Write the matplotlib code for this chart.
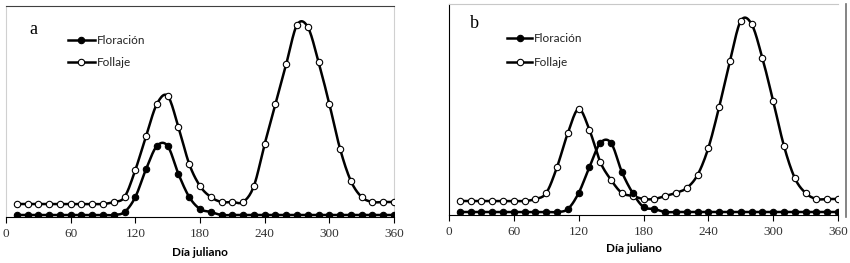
import numpy as np
import matplotlib.pyplot as plt
from matplotlib.lines import Line2D

# dia juliano (cada 10 dias)
dias = np.arange(10, 361, 10)

# panel a (valores relativos)
flor_a = [2, 2, 2, 2, 2, 2, 2, 2, 2, 2, 5, 20, 48, 71, 71, 43, 20, 8, 5, 2,
          2, 2, 2, 2, 2, 2, 2, 2, 2, 2, 2, 2, 2, 2, 2, 2]
foll_a = [13, 13, 13, 13, 13, 13, 13, 13, 13, 15, 20, 47, 81, 113, 121, 90, 53, 31, 20, 15,
          15, 15, 31, 73, 113, 153, 192, 190, 155, 113, 68, 36, 20, 15, 15, 15]

# panel b
flor_b = [3, 3, 3, 3, 3, 3, 3, 3, 3, 3, 6, 22, 48, 72, 72, 43, 22, 8, 6, 3,
          3, 3, 3, 3, 3, 3, 3, 3, 3, 3, 3, 3, 3, 3, 3, 3]
foll_b = [14, 14, 14, 14, 14, 14, 14, 16, 22, 48, 82, 106, 85, 53, 35, 22, 19, 16, 16, 19,
          22, 27, 40, 67, 108, 154, 194, 191, 157, 114, 69, 37, 22, 16, 16, 16]

xticks = [0, 60, 120, 180, 240, 300, 360]
sans = ['Lato', 'DejaVu Sans']


def suavizar(x, y, n=12):
    # curva suave tipo Excel (Catmull-Rom)
    x = np.asarray(x, float)
    y = np.asarray(y, float)
    px = np.concatenate([[x[0]], x, [x[-1]]])
    py = np.concatenate([[y[0]], y, [y[-1]]])
    t = np.linspace(0, 1, n, endpoint=False)
    xs, ys = [], []
    for i in range(1, len(px) - 2):
        for p, out in ((px, xs), (py, ys)):
            p0, p1, p2, p3 = p[i - 1], p[i], p[i + 1], p[i + 2]
            out.extend(0.5 * (2 * p1 + (-p0 + p2) * t + (2 * p0 - 5 * p1 + 4 * p2 - p3) * t**2
                              + (-p0 + 3 * p1 - 3 * p2 + p3) * t**3))
    xs.append(x[-1])
    ys.append(y[-1])
    return xs, ys


def panel(ax, flor, foll, leg_x, leg_y):
    for vals, fill in ((foll, 'white'), (flor, 'black')):
        xs, ys = suavizar(dias, vals)
        ax.plot(xs, ys, color='black', lw=1.8, zorder=2)
        ax.plot(dias, vals, ls='none', marker='o', ms=4.6, mfc=fill, mec='black',
                mew=0.8, zorder=3)
    ax.set_xlim(0, 360)
    ax.set_ylim(0, 211)
    ax.set_xticks(xticks)
    ax.set_xticklabels([str(t) for t in xticks], family='Liberation Serif', fontsize=9.5,
                       color='#333333')
    ax.tick_params(axis='x', direction='out', length=4, width=0.8, pad=4)
    ax.set_yticks([])
    # leyenda manual
    for (yy, fill, lab) in ((leg_y[0], 'black', 'Floración'), (leg_y[1], 'white', 'Follaje')):
        ax.add_line(Line2D(leg_x, [yy, yy], color='black', lw=1.8, transform=ax.transAxes,
                           clip_on=False))
        ax.add_line(Line2D([np.mean(leg_x)], [yy], ls='none', marker='o', ms=4.6, mfc=fill,
                           mec='black', mew=0.8, transform=ax.transAxes, clip_on=False))
        ax.text(leg_x[1] + 0.005, yy, lab, transform=ax.transAxes, va='center', ha='left',
                family=sans, fontsize=8.5, color='#222222')


W, H = 850, 263
fig = plt.figure(figsize=(8.5, 2.63), dpi=100)

ax1 = fig.add_axes([6 / W, (H - 217) / H, 388 / W, 211 / H])
ax2 = fig.add_axes([449 / W, (H - 215) / H, 389 / W, 211 / H])

panel(ax1, flor_a, foll_a, [(68 - 6) / 388, (95 - 6) / 388],
      [(217 - 40) / 211, (217 - 62) / 211])
panel(ax2, flor_b, foll_b, [(507 - 449) / 389, (532 - 449) / 389],
      [(215 - 38) / 211, (215 - 62) / 211])

# bordes tipo Excel
ax1.spines['top'].set_color('#404040')
ax1.spines['left'].set_color('#d0d0d0')
ax1.spines['right'].set_color('#d0d0d0')
ax1.spines['bottom'].set_color('black')
ax2.spines['top'].set_color('#c8c8c8')
ax2.spines['right'].set_visible(False)
ax2.spines['left'].set_color('black')
ax2.spines['bottom'].set_color('black')
fig.add_artist(Line2D([846 / W, 846 / W], [(H - 4) / H, (H - 217) / H], color='#707070', lw=1.2))

fig.text(33 / W, (H - 29) / H, 'a', family='Liberation Serif', fontsize=13, ha='center', va='center')
fig.text(474 / W, (H - 23) / H, 'b', family='Liberation Serif', fontsize=13, ha='center', va='center')

fig.text(200 / W, (H - 252) / H, 'Día juliano', family=sans, fontsize=8.5, weight='bold',
         ha='center', va='center')
fig.text(634 / W, (H - 248) / H, 'Día juliano', family=sans, fontsize=8.5, weight='bold',
         ha='center', va='center')

fig.savefig('out.png', dpi=100)
